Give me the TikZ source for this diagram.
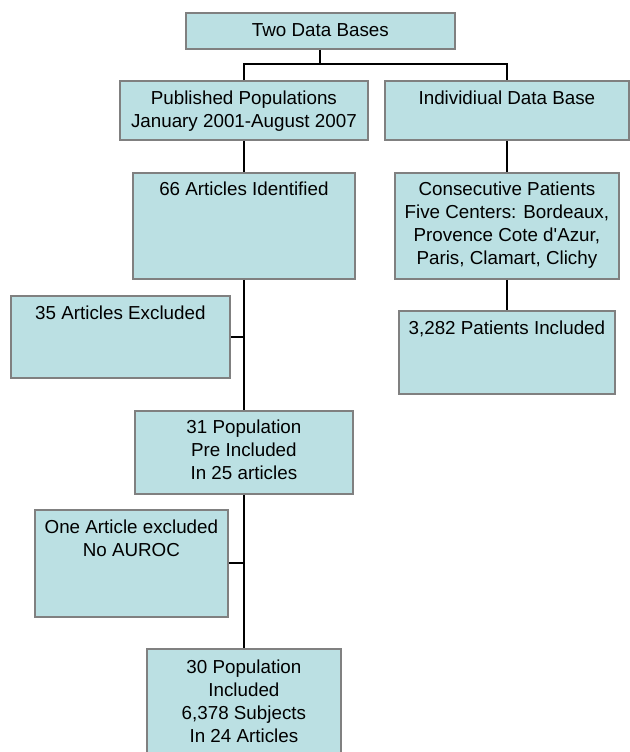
\documentclass[tikz,border=0pt]{standalone}
\usepackage{fontspec}
\setmainfont{Liberation Sans}
\newfontfamily\plainsans{Liberation Sans}
\definecolor{boxfill}{HTML}{BBE0E3}
\definecolor{boxline}{HTML}{808080}
\tikzset{
  box/.style={draw=boxline, fill=boxfill, line width=1.8pt, inner sep=0pt, anchor=north west, rectangle},
  txt/.style={anchor=base, inner sep=0pt, font=\plainsans\fontsize{18.8}{23.3}\selectfont},
  link/.style={draw=black, line width=2pt}
}
\renewcommand\arraystretch{1}
\newcommand\lines[1]{\begin{tabular}[t]{@{}c@{}}#1\end{tabular}}
\begin{document}
\begin{tikzpicture}[x=1pt,y=-1pt]
\useasboundingbox (0,0) rectangle (629,752);
% boxes
\node[box, minimum width=269pt, minimum height=36pt] (top) at (185,12) {};
\node[box, minimum width=248pt, minimum height=59pt] (pub) at (119,80) {};
\node[box, minimum width=244pt, minimum height=59pt] (ind) at (384,80) {};
\node[box, minimum width=222pt, minimum height=106pt] (art) at (132,172) {};
\node[box, minimum width=224pt, minimum height=106pt] (cons) at (394,172) {};
\node[box, minimum width=219pt, minimum height=82pt] (exc) at (10,295) {};
\node[box, minimum width=216pt, minimum height=83pt] (pat) at (398,310) {};
\node[box, minimum width=218pt, minimum height=83pt] (pre) at (134,410) {};
\node[box, minimum width=193pt, minimum height=107pt] (one) at (34,509) {};
\node[box, minimum width=194pt, minimum height=110pt] (fin) at (146,648) {};
% texts
\node[txt] (top-t) at ([yshift=-25pt]top.north) {\lines{Two Data Bases}};
\node[txt] (pub-t) at ([yshift=-24pt]pub.north) {\lines{Published Populations\\January 2001-August 2007}};
\node[txt] (ind-t) at ([yshift=-24pt]ind.north) {\lines{Individiual Data Base}};
\node[txt] (art-t) at ([yshift=-23pt]art.north) {\lines{66 Articles Identified}};
\node[txt] (cons-t) at ([yshift=-23pt]cons.north) {\lines{Consecutive Patients\\Five Centers: Bordeaux,\\Provence Cote d'Azur,\\Paris, Clamart, Clichy}};
\node[txt] (exc-t) at ([yshift=-24pt]exc.north) {\lines{35 Articles Excluded}};
\node[txt] (pat-t) at ([yshift=-24pt]pat.north) {\lines{3,282 Patients Included}};
\node[txt] (pre-t) at ([yshift=-23pt]pre.north) {\lines{31 Population\\Pre Included\\In 25 articles}};
\node[txt] (one-t) at ([yshift=-24pt]one.north) {\lines{One Article excluded\\No AUROC}};
\node[txt] (fin-t) at ([yshift=-25pt]fin.north) {\lines{30 Population\\Included\\6,378 Subjects\\In 24 Articles}};
% connectors
\coordinate (j) at (top.south |- 0,64);
\draw[link] (top.south) -- (j);
\draw[link] (pub.north) |- (j) -| (ind.north);
\draw[link] (pub.south) -- (art.north);
\draw[link] (ind.south) -- (cons.north);
\draw[link] (cons.south) -- (pat.north);
\draw[link] (art.south) -- (art.south |- pre.north);
\draw[link] (exc.east) -- (art.south |- exc.east);
\draw[link] (art.south |- pre.south) -- (art.south |- fin.north);
\draw[link] (one.east) -- (art.south |- one.east);
\end{tikzpicture}
\end{document}
